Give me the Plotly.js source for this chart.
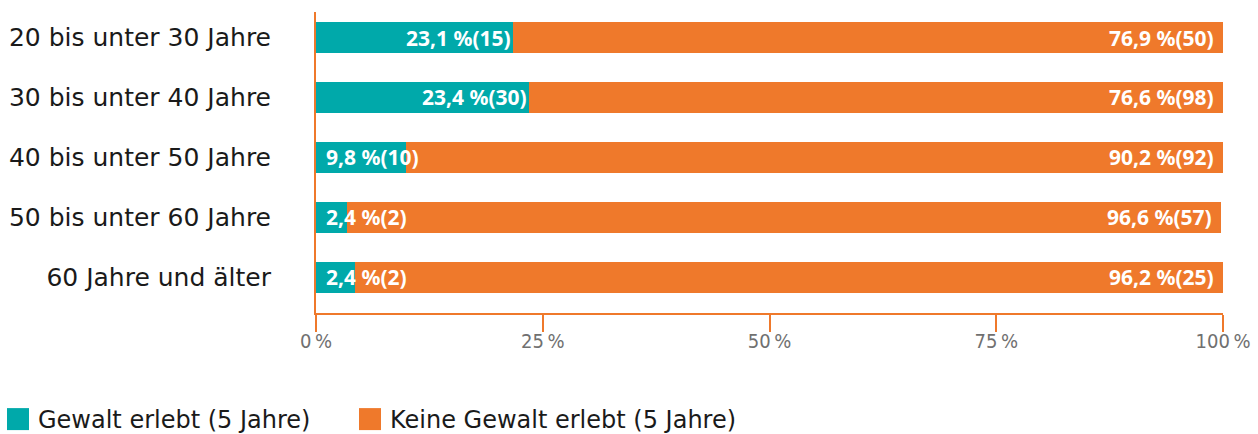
<!DOCTYPE html>
<html><head><meta charset="utf-8">
<script src="https://cdn.plot.ly/plotly-3.0.1.min.js"></script>
<style>html,body{margin:0;padding:0;background:#fff}#chart{width:1258px;height:434px}</style>
</head><body><div id="chart"></div>
<script>
const categories = ["20 bis unter 30 Jahre", "30 bis unter 40 Jahre", "40 bis unter 50 Jahre", "50 bis unter 60 Jahre", "60 Jahre und älter"];
const gewaltBar = [21.7, 23.5, 9.9, 3.4, 4.3];
const keineBar = [78.3, 76.5, 90.1, 96.4, 95.7];
const gewaltLabels = ["23,1 %(15)", "23,4 %(30)", "9,8 %(10)", "2,4 %(2)", "2,4 %(2)"];
const keineLabels = ["76,9 %(50)", "76,6 %(98)", "90,2 %(92)", "96,6 %(57)", "96,2 %(25)"];
const seriesNames = ["Gewalt erlebt (5 Jahre)", "Keine Gewalt erlebt (5 Jahre)"];
const tickValues = [0, 25, 50, 75, 100];
const tickLabels = ["0\u2009%", "25\u2009%", "50\u2009%", "75\u2009%", "100\u2009%"];

const TEAL = "#00a9aa";
const ORANGE = "#ef792b";
const labelFont = {family: "'Noto Sans', sans-serif", size: 21, color: "#ffffff", weight: "bold"};

const traces = [
  {type: "bar", orientation: "h", name: seriesNames[0], y: categories, x: gewaltBar,
   marker: {color: TEAL}, hoverinfo: "skip"},
  {type: "bar", orientation: "h", name: seriesNames[1], y: categories, x: keineBar,
   marker: {color: ORANGE}, hoverinfo: "skip"}
];

const annotations = [];
categories.forEach((c, i) => {
  const fits = gewaltBar[i] > 15;
  annotations.push({x: fits ? gewaltBar[i] : 0, y: c, xref: "x", yref: "y",
    text: gewaltLabels[i], showarrow: false, xanchor: fits ? "right" : "left",
    xshift: fits ? 0 : 8, yanchor: "middle", font: labelFont});
  annotations.push({x: gewaltBar[i] + keineBar[i], y: c, xref: "x", yref: "y",
    text: keineLabels[i], showarrow: false, xanchor: "right", xshift: -7,
    yanchor: "middle", font: labelFont});
});

const layout = {
  width: 1258, height: 434,
  margin: {l: 316, r: 35, t: 12, b: 121},
  paper_bgcolor: "#ffffff", plot_bgcolor: "#ffffff",
  barmode: "stack", bargap: 0.49,
  font: {family: "'DejaVu Sans', sans-serif", color: "#1a1a1a"},
  xaxis: {range: [0, 100], tickvals: tickValues, ticktext: tickLabels,
    showgrid: false, zeroline: false, showline: true, linecolor: ORANGE, linewidth: 1.5,
    ticks: "outside", ticklen: 17, tickwidth: 1.5, tickcolor: ORANGE,
    ticklabelstandoff: -8,
    tickfont: {family: "'Liberation Sans Narrow', 'DejaVu Sans Condensed', sans-serif", size: 20, color: "#707070"},
    fixedrange: true},
  yaxis: {type: "category", categoryorder: "array", categoryarray: categories,
    range: [4.596, -0.426], showgrid: false, zeroline: false,
    showline: true, linecolor: ORANGE, linewidth: 2, ticks: "",
    ticklabelstandoff: 38,
    tickfont: {family: "'DejaVu Sans', sans-serif", size: 25, color: "#1a1a1a"},
    fixedrange: true},
  showlegend: true,
  legend: {orientation: "h", xref: "container", yref: "container", x: 0, y: 0,
    xanchor: "left", yanchor: "bottom", entrywidth: 307, entrywidthmode: "pixels",
    font: {family: "'DejaVu Sans', sans-serif", size: 24, color: "#1a1a1a"},
    traceorder: "normal", bgcolor: "rgba(0,0,0,0)"},
  annotations: annotations
};

function fixLegend() {
  document.querySelectorAll("#chart .legend .legendpoints path").forEach(p => {
    p.setAttribute("d", "M11,11H-11V-11H11Z");
  });
  document.querySelectorAll("#chart .legend [clip-path]").forEach(el => el.removeAttribute("clip-path"));
  const lg = document.querySelector("#chart .legend");
  if (lg) {
    lg.removeAttribute("clip-path");
    const m = /translate\(\s*([-\d.]+)[ ,]+([-\d.]+)\s*\)/.exec(lg.getAttribute("transform") || "");
    if (m) lg.setAttribute("transform", "translate(" + (parseFloat(m[1]) - 2) + "," + (parseFloat(m[2]) + 8) + ")");
  }
}

Plotly.newPlot("chart", traces, layout, {displayModeBar: false, responsive: false}).then(gd => {
  fixLegend();
});
</script>
</body></html>
